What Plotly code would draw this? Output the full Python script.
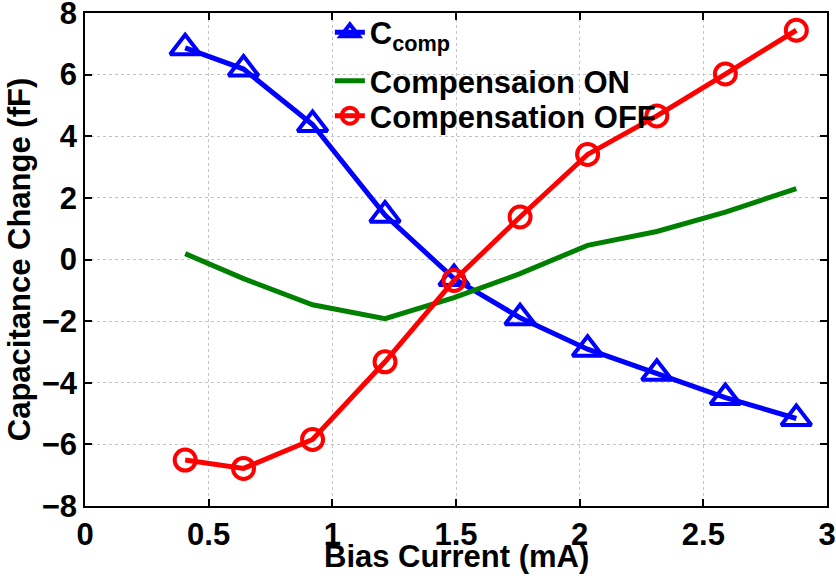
import plotly.graph_objects as go

bias_current = [0.405, 0.641, 0.920, 1.213, 1.492, 1.759, 2.032, 2.312, 2.589, 2.876]
c_comp = [6.87, 6.18, 4.38, 1.44, -0.62, -1.89, -2.91, -3.69, -4.48, -5.16]
comp_on = [0.19, -0.62, -1.47, -1.92, -1.24, -0.46, 0.46, 0.91, 1.54, 2.30]
comp_off = [-6.51, -6.78, -5.84, -3.32, -0.68, 1.38, 3.41, 4.66, 6.02, 7.44]

x_ticks = [0, 0.5, 1, 1.5, 2, 2.5, 3]
y_ticks = [-8, -6, -4, -2, 0, 2, 4, 6, 8]

FONT = "Liberation Sans, Arial, Helvetica, sans-serif"
BIG = dict(family=FONT, size=31, color="black", weight="bold")

fig = go.Figure()
fig.add_trace(go.Scatter(
    x=bias_current, y=c_comp, mode="lines+markers", name="C<sub>comp</sub>",
    line=dict(color="#0000FF", width=5),
    marker=dict(symbol="triangle-up-open", size=26, color="#0000FF",
                line=dict(color="#0000FF", width=4)),
    legend="legend",
))
fig.add_trace(go.Scatter(
    x=bias_current, y=comp_on, mode="lines", name="Compensaion ON",
    line=dict(color="#008000", width=5),
    legend="legend2",
))
fig.add_trace(go.Scatter(
    x=bias_current, y=comp_off, mode="lines+markers", name="Compensation OFF",
    line=dict(color="#FF0000", width=5),
    marker=dict(symbol="circle-open", size=21, color="#FF0000",
                line=dict(color="#FF0000", width=4)),
    legend="legend3",
))

axis_common = dict(
    showline=True, linecolor="black", linewidth=1.5, mirror="ticks",
    ticks="inside", ticklen=7, tickwidth=1.5, tickcolor="black",
    showgrid=True, gridcolor="#c4c4c4", griddash="dot", gridwidth=1,
    zeroline=False, ticklabeloverflow="allow", automargin=False,
    tickfont=BIG,
)

fig.update_xaxes(
    range=[0, 3], tickvals=x_ticks, ticktext=[f"{v:g}" for v in x_ticks],
    **axis_common,
)
fig.update_yaxes(
    range=[-8, 8], tickvals=y_ticks, ticktext=[f"{v:g}".replace("-", "\u2212") for v in y_ticks],
    title=dict(text="Capacitance Change (fF)", standoff=2, font=BIG),
    **axis_common,
)

# x-axis title
fig.add_annotation(
    text="Bias Current (mA)", xref="paper", yref="paper", x=0.5, y=0,
    xanchor="center", yanchor="top", yshift=-31, showarrow=False, font=BIG,
)

leg_common = dict(xanchor="left", yanchor="middle", bgcolor="rgba(0,0,0,0)",
                  borderwidth=0, font=BIG, itemwidth=30)

fig.update_layout(
    width=836, height=576,
    margin=dict(l=85, r=9, t=13, b=70, autoexpand=False),
    paper_bgcolor="white", plot_bgcolor="white",
    showlegend=True,
    legend=dict(x=0.33, y=0.96, **leg_common),
    legend2=dict(x=0.33, y=0.862, **leg_common),
    legend3=dict(x=0.33, y=0.791, **leg_common),
)

fig.write_html("out.html")
